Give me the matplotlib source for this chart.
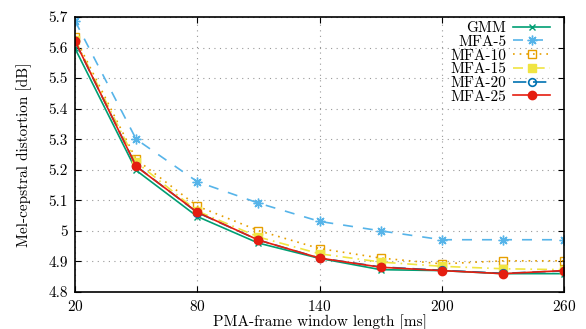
import matplotlib
matplotlib.use("Agg")
import matplotlib.pyplot as plt
from matplotlib.ticker import FuncFormatter

plt.rcParams['font.family'] = ['cmr10', 'DejaVu Serif']
plt.rcParams['axes.formatter.use_mathtext'] = True
plt.rcParams['mathtext.fontset'] = 'cm'

window_ms = [20, 50, 80, 110, 140, 170, 200, 230, 260]
gmm    = [5.597, 5.198, 5.047, 4.960, 4.910, 4.873, 4.870, 4.860, 4.860]
mfa5   = [5.687, 5.300, 5.161, 5.091, 5.031, 5.000, 4.971, 4.971, 4.971]
mfa10  = [5.634, 5.234, 5.081, 5.001, 4.942, 4.911, 4.892, 4.902, 4.902]
mfa15  = [5.626, 5.225, 5.065, 4.980, 4.925, 4.898, 4.884, 4.876, 4.873]
mfa20  = [5.620, 5.212, 5.060, 4.970, 4.911, 4.882, 4.871, 4.861, 4.869]
mfa25  = [5.621, 5.211, 5.061, 4.970, 4.911, 4.881, 4.870, 4.860, 4.870]

x_ticks = [20, 80, 140, 200, 260]
y_ticks = [4.8, 4.9, 5.0, 5.1, 5.2, 5.3, 5.4, 5.5, 5.6, 5.7]

fs = 11
fig = plt.figure(figsize=(5.86, 3.29), dpi=100)
ax = fig.add_axes([0.128, 0.1125, 0.8345, 0.836])

lw = 1.2
ax.plot(window_ms, gmm, color='#009e73', lw=lw, ls='-', marker='x', ms=5, mew=1.0, label='GMM')
ax.plot(window_ms, mfa5, color='#56b4e9', lw=lw, ls=(0, (6, 6)), marker=(8, 2, 0), ms=7, mew=1.0, label='MFA-5')
ax.plot(window_ms, mfa10, color='#e69f00', lw=lw, ls=(0, (1, 3)), marker='s', ms=5.5, mfc='none', mew=1.0, label='MFA-10')
ax.plot(window_ms, mfa15, color='#f0e442', lw=lw, ls=(0, (6, 3, 1, 3)), marker='s', ms=5.5, label='MFA-15')
ax.plot(window_ms, mfa20, color='#0072b2', lw=lw, ls=(0, (8, 4)), marker='o', ms=5.5, mfc='none', mew=1.2, label='MFA-20')
ax.plot(window_ms, mfa25, color='#e51e10', lw=lw, ls='-', marker='o', ms=6, label='MFA-25')

ax.set_xlim(20, 260)
ax.set_ylim(4.8, 5.7)
ax.set_xticks(x_ticks)
ax.set_yticks(y_ticks)
ax.yaxis.set_major_formatter(FuncFormatter(lambda v, p: '{:g}'.format(round(v, 2))))
ax.tick_params(direction='in', top=True, right=True, length=4, width=0.8, labelsize=fs, pad=5)
ax.grid(True, color='#999999', ls=(0, (1, 4)), lw=0.8)
for s in ax.spines.values():
    s.set_linewidth(1.2)

ax.set_xlabel('PMA-frame window length [ms]', fontsize=fs, labelpad=0)
ax.set_ylabel('Mel-cepstral distortion [dB]', fontsize=fs, labelpad=12)

leg = ax.legend(loc='upper right', bbox_to_anchor=(0.971, 0.984), frameon=False,
                markerfirst=False, fontsize=fs, borderpad=0, borderaxespad=0,
                handlelength=2.4, labelspacing=0.0, handletextpad=0.45)
for t in leg.get_texts():
    t.set_ha('right')
leg._legend_box.align = 'right'

fig.savefig('out.png', dpi=100)
